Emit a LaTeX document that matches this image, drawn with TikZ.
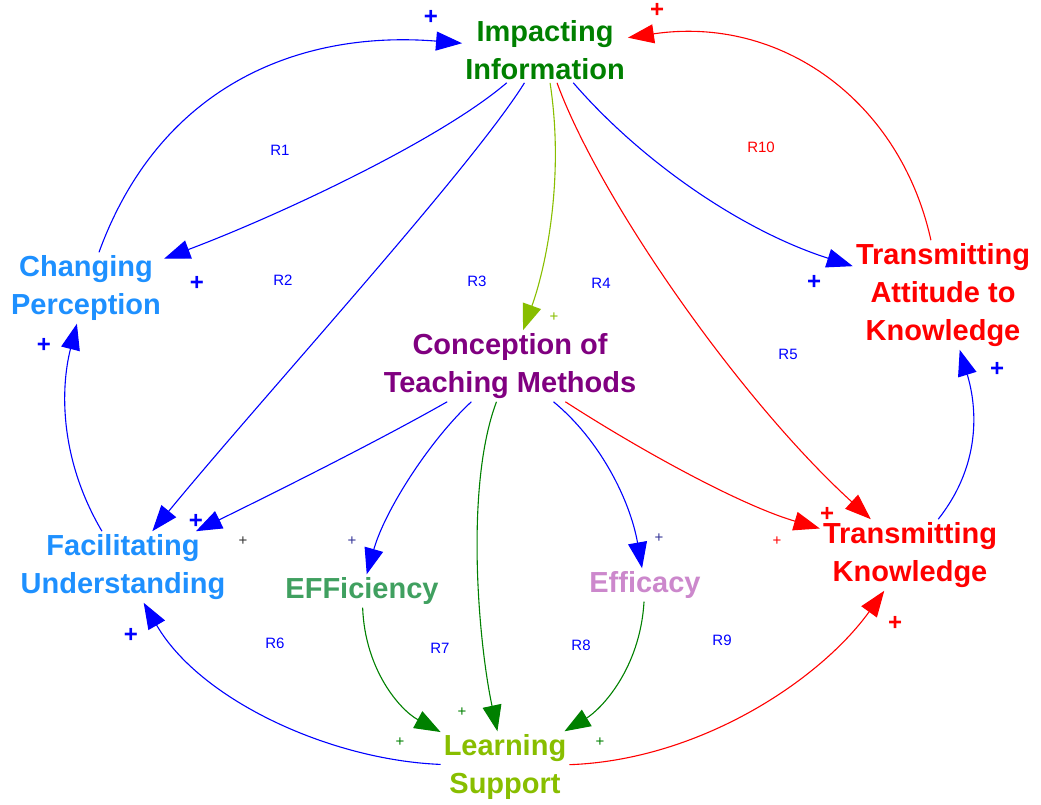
\documentclass[tikz,border=0pt]{standalone}
\usepackage{fontspec}
\setmainfont{Liberation Sans}
\usetikzlibrary{arrows.meta}
\definecolor{ngreen}{RGB}{0,128,0}
\definecolor{nsky}{RGB}{30,144,255}
\definecolor{npurple}{RGB}{128,0,128}
\definecolor{nsea}{RGB}{64,160,96}
\definecolor{norchid}{RGB}{204,136,204}
\definecolor{nlime}{RGB}{136,190,0}
\definecolor{nnavy}{RGB}{50,50,150}
\tikzset{x=1pt,y=1pt,
    var/.style={font=\bfseries\fontsize{29}{38}\selectfont, align=center, inner sep=3pt},
    link/.style={line width=1.1pt, -{Triangle[length=26pt,width=19pt]}},
    sign/.style={font=\fontsize{15}{15}\selectfont, inner sep=0pt},
    bigsign/.style={font=\bfseries\fontsize{24}{24}\selectfont, inner sep=0pt},
    loopname/.style={font=\fontsize{15}{15}\selectfont, text=blue, inner sep=0pt},
    }
\begin{document}
\begin{tikzpicture}
\useasboundingbox (0,0) rectangle (1041,805);
% variables
\node[var, text=ngreen] (ii) at (545,755) {Impacting\\Information};
\node[var, text=nsky] (cp) at (86,517) {Changing\\Perception};
\node[var, text=red] (ta) at (943,510) {Transmitting\\Attitude to\\Knowledge};
\node[var, text=npurple] (ctm) at (510,439) {Conception of\\Teaching Methods};
\node[var, text=nsky] (fu) at (123,238) {Facilitating\\Understanding};
\node[var, text=nsea] (ef) at (362,214) {EFFiciency};
\node[var, text=norchid] (ec) at (645,220) {Efficacy};
\node[var, text=red] (tk) at (910,250) {Transmitting\\Knowledge};
\node[var, text=nlime] (ls) at (505,38) {Learning\\Support};
% links
\draw[link, blue] (cp) .. controls (160,720) and (300,775) .. (ii);
\draw[link, blue] (ii) .. controls (440,665) and (280,590) .. (cp);
\draw[link, blue] (ii) .. controls (470,635) and (260,405) .. (fu);
\draw[link, nlime] (ii) .. controls (565,625) and (545,535) .. (ctm);
\draw[link, red] (ii) .. controls (600,605) and (740,405) .. (tk);
\draw[link, blue] (ii) .. controls (640,645) and (740,575) .. (ta);
\draw[link, red] (ta) .. controls (900,705) and (780,790) .. (ii);
\draw[link, blue] (tk) .. controls (985,345) and (975,405) .. (ta);
\draw[link, blue] (fu) .. controls (60,345) and (60,415) .. (cp);
\draw[link, blue] (ctm) .. controls (380,365) and (280,315) .. (fu);
\draw[link, blue] (ctm) .. controls (430,365) and (385,295) .. (ef);
\draw[link, ngreen] (ctm) .. controls (465,320) and (478,165) .. (ls);
\draw[link, blue] (ctm) .. controls (600,365) and (630,305) .. (ec);
\draw[link, red] (ctm) .. controls (640,355) and (740,300) .. (tk);
\draw[link, ngreen] (ef) .. controls (365,135) and (400,95) .. (ls);
\draw[link, ngreen] (ec) .. controls (640,135) and (600,95) .. (ls);
\draw[link, blue] (ls) .. controls (330,45) and (200,105) .. (fu);
\draw[link, red] (ls) .. controls (700,45) and (820,125) .. (tk);
% polarities
\node[bigsign, text=blue] (p1) at (431,788) {+};
\node[bigsign, text=blue] (p2) at (197,522) {+};
\node[bigsign, text=blue] (p3) at (196,284) {+};
\node[sign, text=nlime] (p4) at (554,488) {+};
\node[bigsign, text=red] (p5) at (827,291) {+};
\node[bigsign, text=blue] (p6) at (814,523) {+};
\node[bigsign, text=red] (p7) at (657,795) {+};
\node[bigsign, text=blue] (p8) at (997,436) {+};
\node[bigsign, text=blue] (p9) at (44,460) {+};
\node[sign, text=black!80] (p10) at (243,264) {+};
\node[sign, text=nnavy] (p11) at (352,264) {+};
\node[sign, text=ngreen] (p12) at (462,93) {+};
\node[sign, text=nnavy] (p13) at (659,267) {+};
\node[sign, text=red] (p14) at (777,264) {+};
\node[sign, text=ngreen] (p15) at (400,63) {+};
\node[sign, text=ngreen] (p16) at (600,63) {+};
\node[bigsign, text=blue] (p17) at (131,170) {+};
\node[bigsign, text=red] (p18) at (895,182) {+};
% loops
\node[loopname] (r1) at (280,655) {R1};
\node[loopname] (r2) at (283,525) {R2};
\node[loopname] (r3) at (477,524) {R3};
\node[loopname] (r4) at (601,522) {R4};
\node[loopname] (r5) at (788,451) {R5};
\node[loopname] (r6) at (275,162) {R6};
\node[loopname] (r7) at (440,157) {R7};
\node[loopname] (r8) at (581,160) {R8};
\node[loopname] (r9) at (722,165) {R9};
\node[loopname, text=red] (r10) at (761,658) {R10};
\end{tikzpicture}
\end{document}
